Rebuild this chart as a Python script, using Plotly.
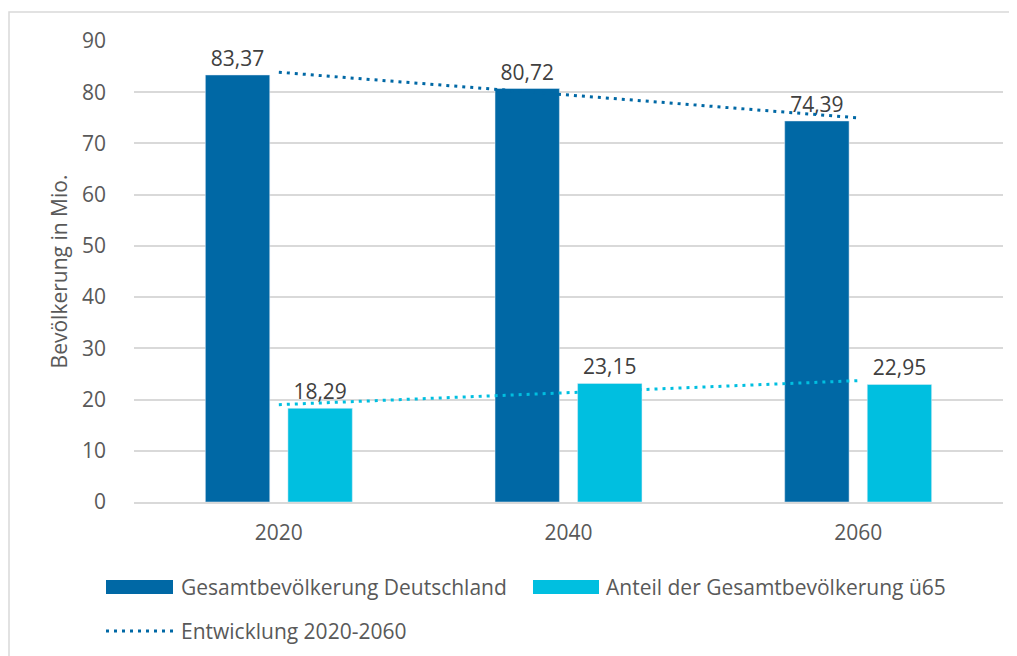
import plotly.graph_objects as go

# data
years = ["2020", "2040", "2060"]
gesamt = [83.37, 80.72, 74.39]
ue65 = [18.29, 23.15, 22.95]

# linear trend endpoints as drawn in the reference (2020 and 2060)
trend_years = ["2020", "2060"]
trend_gesamt = [83.9, 75.0]
trend_ue65 = [19.0, 23.7]

dark = "#0068a5"
light = "#00bfe0"
grey_text = "#595959"
grid = "#d9d9d9"
font_family = "Open Sans, Noto Sans, sans-serif"
fs = 21

fig = go.Figure()

fig.add_trace(go.Bar(
    x=years, y=gesamt, name="Gesamtbevölkerung Deutschland",
    marker=dict(color=dark),
    text=[f"{v:.2f}".replace(".", ",") for v in gesamt],
    textposition="outside", cliponaxis=False,
    textfont=dict(size=fs, color="#404040"),
))
fig.add_trace(go.Bar(
    x=years, y=ue65, name="Anteil der Gesamtbevölkerung ü65",
    marker=dict(color=light),
    text=[f"{v:.2f}".replace(".", ",") for v in ue65],
    textposition="outside", cliponaxis=False,
    textfont=dict(size=fs, color="#404040"),
))
fig.add_trace(go.Scatter(
    x=trend_years, y=trend_gesamt, mode="lines", name="Entwicklung 2020-2060",
    line=dict(color=dark, width=3, dash="3px,5px"),
))
fig.add_trace(go.Scatter(
    x=trend_years, y=trend_ue65, mode="lines", name="Trend ü65",
    line=dict(color=light, width=3, dash="3px,5px"),
))

# page has an 8px body margin; reference pixels -> paper coords (plot: x 134-1003, y 41-502)
def px(x):
    return (x - 134) / 869.0

def py(y):
    return (502 - y) / 461.0

shapes = [
    # outer chart border
    dict(type="rect", xref="paper", yref="paper",
         x0=px(9), x1=px(1030), y0=py(670), y1=py(12),
         line=dict(color=grid, width=1.5), fillcolor="rgba(0,0,0,0)", layer="below"),
    # legend swatches
    dict(type="rect", xref="paper", yref="paper",
         x0=px(106), x1=px(173), y0=py(594), y1=py(580),
         line=dict(width=0), fillcolor=dark),
    dict(type="rect", xref="paper", yref="paper",
         x0=px(533), x1=px(599), y0=py(594), y1=py(580),
         line=dict(width=0), fillcolor=light),
    dict(type="line", xref="paper", yref="paper",
         x0=px(106), x1=px(173), y0=py(631), y1=py(631),
         line=dict(color=dark, width=3, dash="3px,5px")),
]

legend_items = [
    ("Gesamtbevölkerung Deutschland", 179, 587),
    ("Anteil der Gesamtbevölkerung ü65", 604, 587),
    ("Entwicklung 2020-2060", 179, 631),
]
annotations = [
    dict(text=t, xref="paper", yref="paper", x=px(x), y=py(y),
         xanchor="left", yanchor="middle", showarrow=False,
         font=dict(size=fs, color=grey_text))
    for t, x, y in legend_items
]

fig.update_layout(
    width=1009, height=648,
    margin=dict(l=126, r=14, t=33, b=154),
    paper_bgcolor="white", plot_bgcolor="white",
    font=dict(family=font_family, size=fs, color=grey_text),
    separators=",.",
    barmode="group", bargap=0.43, bargroupgap=0.22,
    showlegend=False,
    shapes=shapes, annotations=annotations,
    xaxis=dict(showgrid=False, showline=True, linecolor=grid, linewidth=1.5,
               ticks="", ticklabelstandoff=11,
               tickfont=dict(size=fs, color=grey_text)),
    yaxis=dict(range=[0, 90], dtick=10, showgrid=True, gridcolor=grid, gridwidth=1.5,
               zeroline=False, showline=False, ticks="", ticklabelstandoff=27,
               tickfont=dict(size=fs, color=grey_text),
               title=dict(text="Bevölkerung in Mio.", standoff=8,
                          font=dict(size=fs, color=grey_text))),
)

fig.write_html("out.html")
